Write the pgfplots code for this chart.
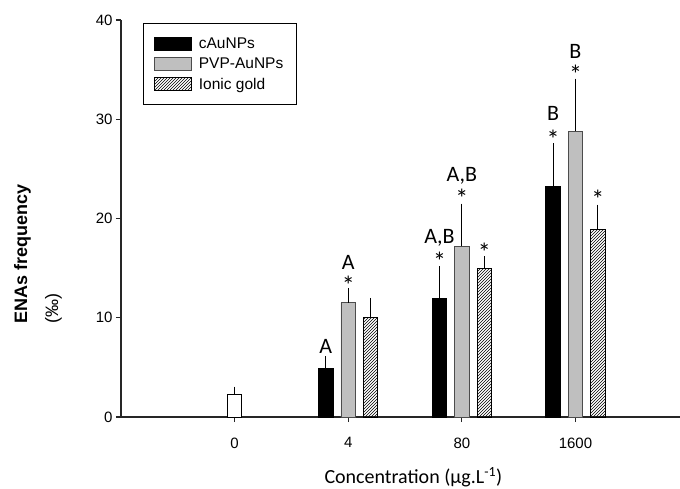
\documentclass[border=0pt]{standalone}
\usepackage{pgfplots}
\pgfplotsset{compat=1.18}
\usetikzlibrary{patterns}
\usepackage{fontspec}
\setmainfont{Liberation Sans}
\newfontfamily\calfont{Carlito}

% x: 0 = control, 1 = 4, 2 = 80, 3 = 1600 ug/L
\pgfplotstableread{
x y e
0 2.3 0.75
}\control
\pgfplotstableread{
x y e
1 4.9 1.2
2 11.9 3.3
3 23.2 4.4
}\caunp
\pgfplotstableread{
x y e
1 11.5 1.5
2 17.2 4.3
3 28.8 5.3
}\pvp
\pgfplotstableread{
x y e
1 10.0 2.0
2 15.0 1.2
3 18.9 2.5
}\ionic

\begin{document}
\begin{tikzpicture}
\useasboundingbox (-121pt,-71pt) rectangle (559pt,417pt);
\begin{axis}[
  at={(0pt,0pt)}, anchor=south west,
  scale only axis, width=559pt, height=397pt,
  ybar, bar width=14.5pt,
  xmin=-1, xmax=3.92, ymin=0, ymax=40,
  axis x line=bottom, axis y line=left,
  axis line style={-, line width=1.3pt, black!85},
  tick align=outside, major tick length=5pt,
  tick style={line width=1.1pt, black!85},
  xtick={0,1,2,3}, xticklabels={0,4,80,1600},
  ytick={0,10,20,30,40},
  /pgf/number format/assume math mode=true,
  ticklabel style={font=\fontsize{15}{17}\selectfont},
  xticklabel style={yshift=-12pt},
  xlabel={\calfont Concentration (µg.L\textsuperscript{-1})},
  xlabel style={font=\fontsize{20}{22}\selectfont, inner sep=0pt, at={(axis description cs:0.523,0)}, anchor=center, yshift=-60pt},
  ylabel={\textbf{ENAs frequency}\\(‰)},
  ylabel style={align=left, font=\fontsize{18}{31}\selectfont, at={(axis description cs:-0.1485,0.227)}, anchor=west},
  legend cell align=left,
  legend image code/.code={\draw[#1] (0pt,-6.5pt) rectangle (37pt,6.5pt);},
  legend style={at={(axis description cs:0,1)}, xshift=21.7pt, yshift=-3.3pt, anchor=north west,
    draw=black, line width=0.8pt, font=\fontsize{15.5}{18}\selectfont,
    inner xsep=11pt, inner ysep=12pt, row sep=4pt, column sep=5pt},
  error bars/y dir=plus, error bars/y explicit, error bars/error mark=none,
  error bars/error bar style={line width=0.8pt, black},
]
\addplot[bar shift=0pt, fill=white, draw=black, line width=0.8pt, forget plot]
  table[x=x, y=y, y error=e] {\control};
\addplot[bar shift=-22.4pt, fill=black, draw=black, line width=0.8pt]
  table[x=x, y=y, y error=e] {\caunp};
\addlegendentry{cAuNPs}
\addplot[bar shift=0pt, fill=gray!50, draw=black!70, line width=0.8pt]
  table[x=x, y=y, y error=e] {\pvp};
\addlegendentry{PVP-AuNPs\hspace{13pt}}
\addplot[bar shift=22.4pt, pattern=north east lines, draw=black, line width=0.8pt]
  table[x=x, y=y, y error=e] {\ionic};
\addlegendentry{Ionic gold}

% significance marks
\tikzset{let/.style={font=\calfont\fontsize{22}{22}\selectfont, anchor=base, inner sep=0pt},
         star/.style={font=\calfont\fontsize{26}{26}\selectfont, anchor=base, inner sep=0pt, yshift=-13pt}}
\node[let] at (axis cs:0.803,6.42) {A};
\node[star] at (axis cs:1,13.63) {*};
\node[let] at (axis cs:1,14.88) {A};
\node[star] at (axis cs:1.803,16.05) {*};
\node[let] at (axis cs:1.803,17.5) {A,B};
\node[star] at (axis cs:2,22.37) {*};
\node[let] at (axis cs:2,23.71) {A,B};
\node[star] at (axis cs:2.197,17.0) {*};
\node[star] at (axis cs:2.803,28.41) {*};
\node[let] at (axis cs:2.803,29.86) {B};
\node[star] at (axis cs:3,34.96) {*};
\node[let] at (axis cs:3,36.14) {B};
\node[star] at (axis cs:3.197,22.30) {*};
\end{axis}
\end{tikzpicture}
\end{document}
